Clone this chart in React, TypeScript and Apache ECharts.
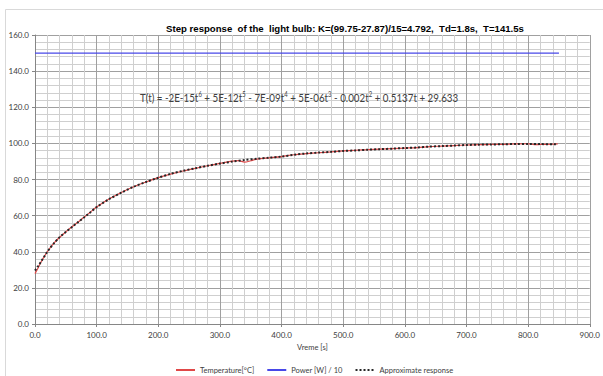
import React, { useEffect, useRef } from "react";
import * as echarts from "echarts";

const titleText =
  "Step response  of the  light bulb: K=(99.75-27.87)/15=4.792,  Td=1.8s,  T=141.5s";
// equation written as rich text tokens: {sup|n} marks a superscript
const equationText =
  "T(t) = -2E-15t{sup|6} + 5E-12t{sup|5} - 7E-09t{sup|4} + 5E-06t{sup|3} - 0.002t{sup|2} + 0.5137t + 29.633";
const xAxisName = "Vreme [s]";
const seriesNames = ["Temperature[°C]", "Power [W] / 10", "Approximate response"];

// Measured temperature (red)
const tempTime = [0, 5, 10, 20, 30, 40, 50, 60, 70, 80, 90, 100, 120, 140, 160, 180, 200, 220, 240, 260, 280, 300, 320, 330, 340, 350, 360, 380, 400, 420, 440, 460, 480, 500, 520, 540, 560, 580, 600, 620, 640, 660, 680, 700, 720, 740, 760, 780, 800, 810, 820, 840, 848];
const tempValue = [27.9, 31.0, 34.5, 40.0, 44.5, 48.0, 51.0, 53.8, 56.5, 59.2, 62.0, 64.8, 69.2, 72.8, 76.0, 78.6, 81.0, 83.0, 84.7, 86.2, 87.6, 88.9, 90.2, 90.4, 89.6, 90.4, 91.3, 92.0, 92.7, 93.7, 94.3, 94.8, 95.3, 95.8, 96.2, 96.5, 96.8, 97.1, 97.4, 97.7, 98.2, 98.5, 98.8, 99.1, 99.3, 99.4, 99.5, 99.7, 99.8, 99.3, 99.4, 99.6, 99.75];

// Power / 10 (blue)
const powerTime = [0, 850];
const powerValue = [150, 150];

// Approximate (polynomial) response, dotted
const approxTime = [0, 5, 10, 15, 20, 25, 30, 40, 50, 60, 70, 80, 90, 100, 120, 140, 160, 180, 200, 220, 240, 260, 280, 300, 320, 340, 360, 380, 400, 420, 440, 460, 480, 500, 520, 540, 560, 580, 600, 620, 640, 660, 680, 700, 720, 740, 760, 780, 800, 820, 845];
const approxValue = [29.6, 32.0, 34.6, 37.3, 40.0, 42.3, 44.4, 48.1, 51.0, 53.7, 56.4, 59.1, 61.9, 64.7, 69.1, 72.7, 76.0, 78.6, 81.0, 83.1, 84.8, 86.2, 87.6, 88.8, 89.9, 90.8, 91.5, 92.1, 92.7, 93.7, 94.4, 94.9, 95.3, 95.8, 96.1, 96.5, 96.8, 97.1, 97.4, 97.7, 98.2, 98.5, 98.8, 99.1, 99.3, 99.4, 99.5, 99.7, 99.7, 99.6, 99.5];

const zip = (a: number[], b: number[]) => a.map((t, i) => [t, b[i]]);

export default function App() {
  const ref = useRef<HTMLDivElement>(null);
  useEffect(() => {
    if (!ref.current) return;
    const chart = echarts.init(ref.current, null, { renderer: "svg" });
    const labelFont = "Lato, 'Open Sans', sans-serif";
    chart.setOption({
      animation: false,
      backgroundColor: "#ffffff",
      grid: { left: 35, top: 35, right: 12, bottom: 52, containLabel: false },
      graphic: [
        {
          type: "rect",
          silent: true,
          z: -10,
          shape: { x: 5.5, y: 9.5, width: 700, height: 500 },
          style: { fill: "none", stroke: "#d9d9d9", lineWidth: 1 },
        },
        {
          type: "text",
          x: 345,
          y: 28,
          style: {
            text: titleText,
            fontFamily: "'Liberation Sans', Arial, sans-serif",
            fontWeight: "bold",
            fontSize: 9.6,
            fill: "#000000",
            align: "center",
            verticalAlign: "middle",
          },
        },
        {
          type: "text",
          x: 140,
          y: 97,
          z: 100,
          scaleX: 0.85,
          style: {
            text: equationText,
            fontFamily: "Lato, 'Noto Sans', sans-serif",
            fontSize: 11.5,
            fill: "#404040",
            align: "left",
            verticalAlign: "middle",
            rich: {
              sup: {
                fontFamily: "Lato, 'Noto Sans', sans-serif",
                fontSize: 7,
                fill: "#404040",
                verticalAlign: "top",
              },
            },
          },
        },
      ],
      legend: {
        left: 170,
        top: 361,
        itemWidth: 19,
        itemHeight: 6,
        itemGap: 12,
        itemStyle: { opacity: 0 },
        textStyle: { fontFamily: labelFont, fontSize: 7.5, color: "#404040" },
        data: seriesNames,
      },
      xAxis: {
        type: "value",
        min: 0,
        max: 900,
        interval: 100,
        name: xAxisName,
        nameLocation: "middle",
        nameGap: 19,
        nameTextStyle: { fontFamily: labelFont, fontSize: 7.5, color: "#404040" },
        axisLine: { show: true, lineStyle: { color: "#868686", width: 1 } },
        axisTick: { show: true, length: 3, lineStyle: { color: "#868686" } },
        axisLabel: {
          fontFamily: labelFont,
          fontSize: 8,
          color: "#404040",
          margin: 7,
          formatter: (v: number) => v.toFixed(1),
        },
        splitLine: { show: true, lineStyle: { color: "#a0a0a0", width: 1 } },
        minorTick: { show: false, splitNumber: 5 },
        minorSplitLine: { show: true, lineStyle: { color: "#cfcfcf", width: 1 } },
      },
      yAxis: {
        type: "value",
        min: 0,
        max: 160,
        interval: 20,
        axisLine: { show: true, lineStyle: { color: "#868686", width: 1 } },
        axisTick: { show: true, length: 3, lineStyle: { color: "#868686" } },
        axisLabel: {
          fontFamily: labelFont,
          fontSize: 8,
          color: "#404040",
          margin: 6,
          formatter: (v: number) => v.toFixed(1),
        },
        splitLine: { show: true, lineStyle: { color: "#a0a0a0", width: 1 } },
        minorTick: { show: false, splitNumber: 5 },
        minorSplitLine: { show: true, lineStyle: { color: "#cfcfcf", width: 1 } },
      },
      series: [
        {
          name: seriesNames[0],
          type: "line",
          data: zip(tempTime, tempValue),
          symbol: "none",
          smooth: 0.3,
          lineStyle: { color: "#e04848", width: 1.2 },
          itemStyle: { color: "#e04848" },
        },
        {
          name: seriesNames[1],
          type: "line",
          data: zip(powerTime, powerValue),
          symbol: "none",
          lineStyle: { color: "#4848e8", width: 1.2 },
          itemStyle: { color: "#4848e8" },
        },
        {
          name: seriesNames[2],
          type: "line",
          data: zip(approxTime, approxValue),
          symbol: "none",
          smooth: 0.3,
          lineStyle: { color: "#262626", width: 2, type: [2, 2] },
          itemStyle: { color: "#262626" },
        },
      ],
    });
    return () => chart.dispose();
  }, []);
  return (
    <div
      ref={ref}
      style={{ position: "fixed", left: 0, top: 0, width: 603, height: 376 }}
    />
  );
}
